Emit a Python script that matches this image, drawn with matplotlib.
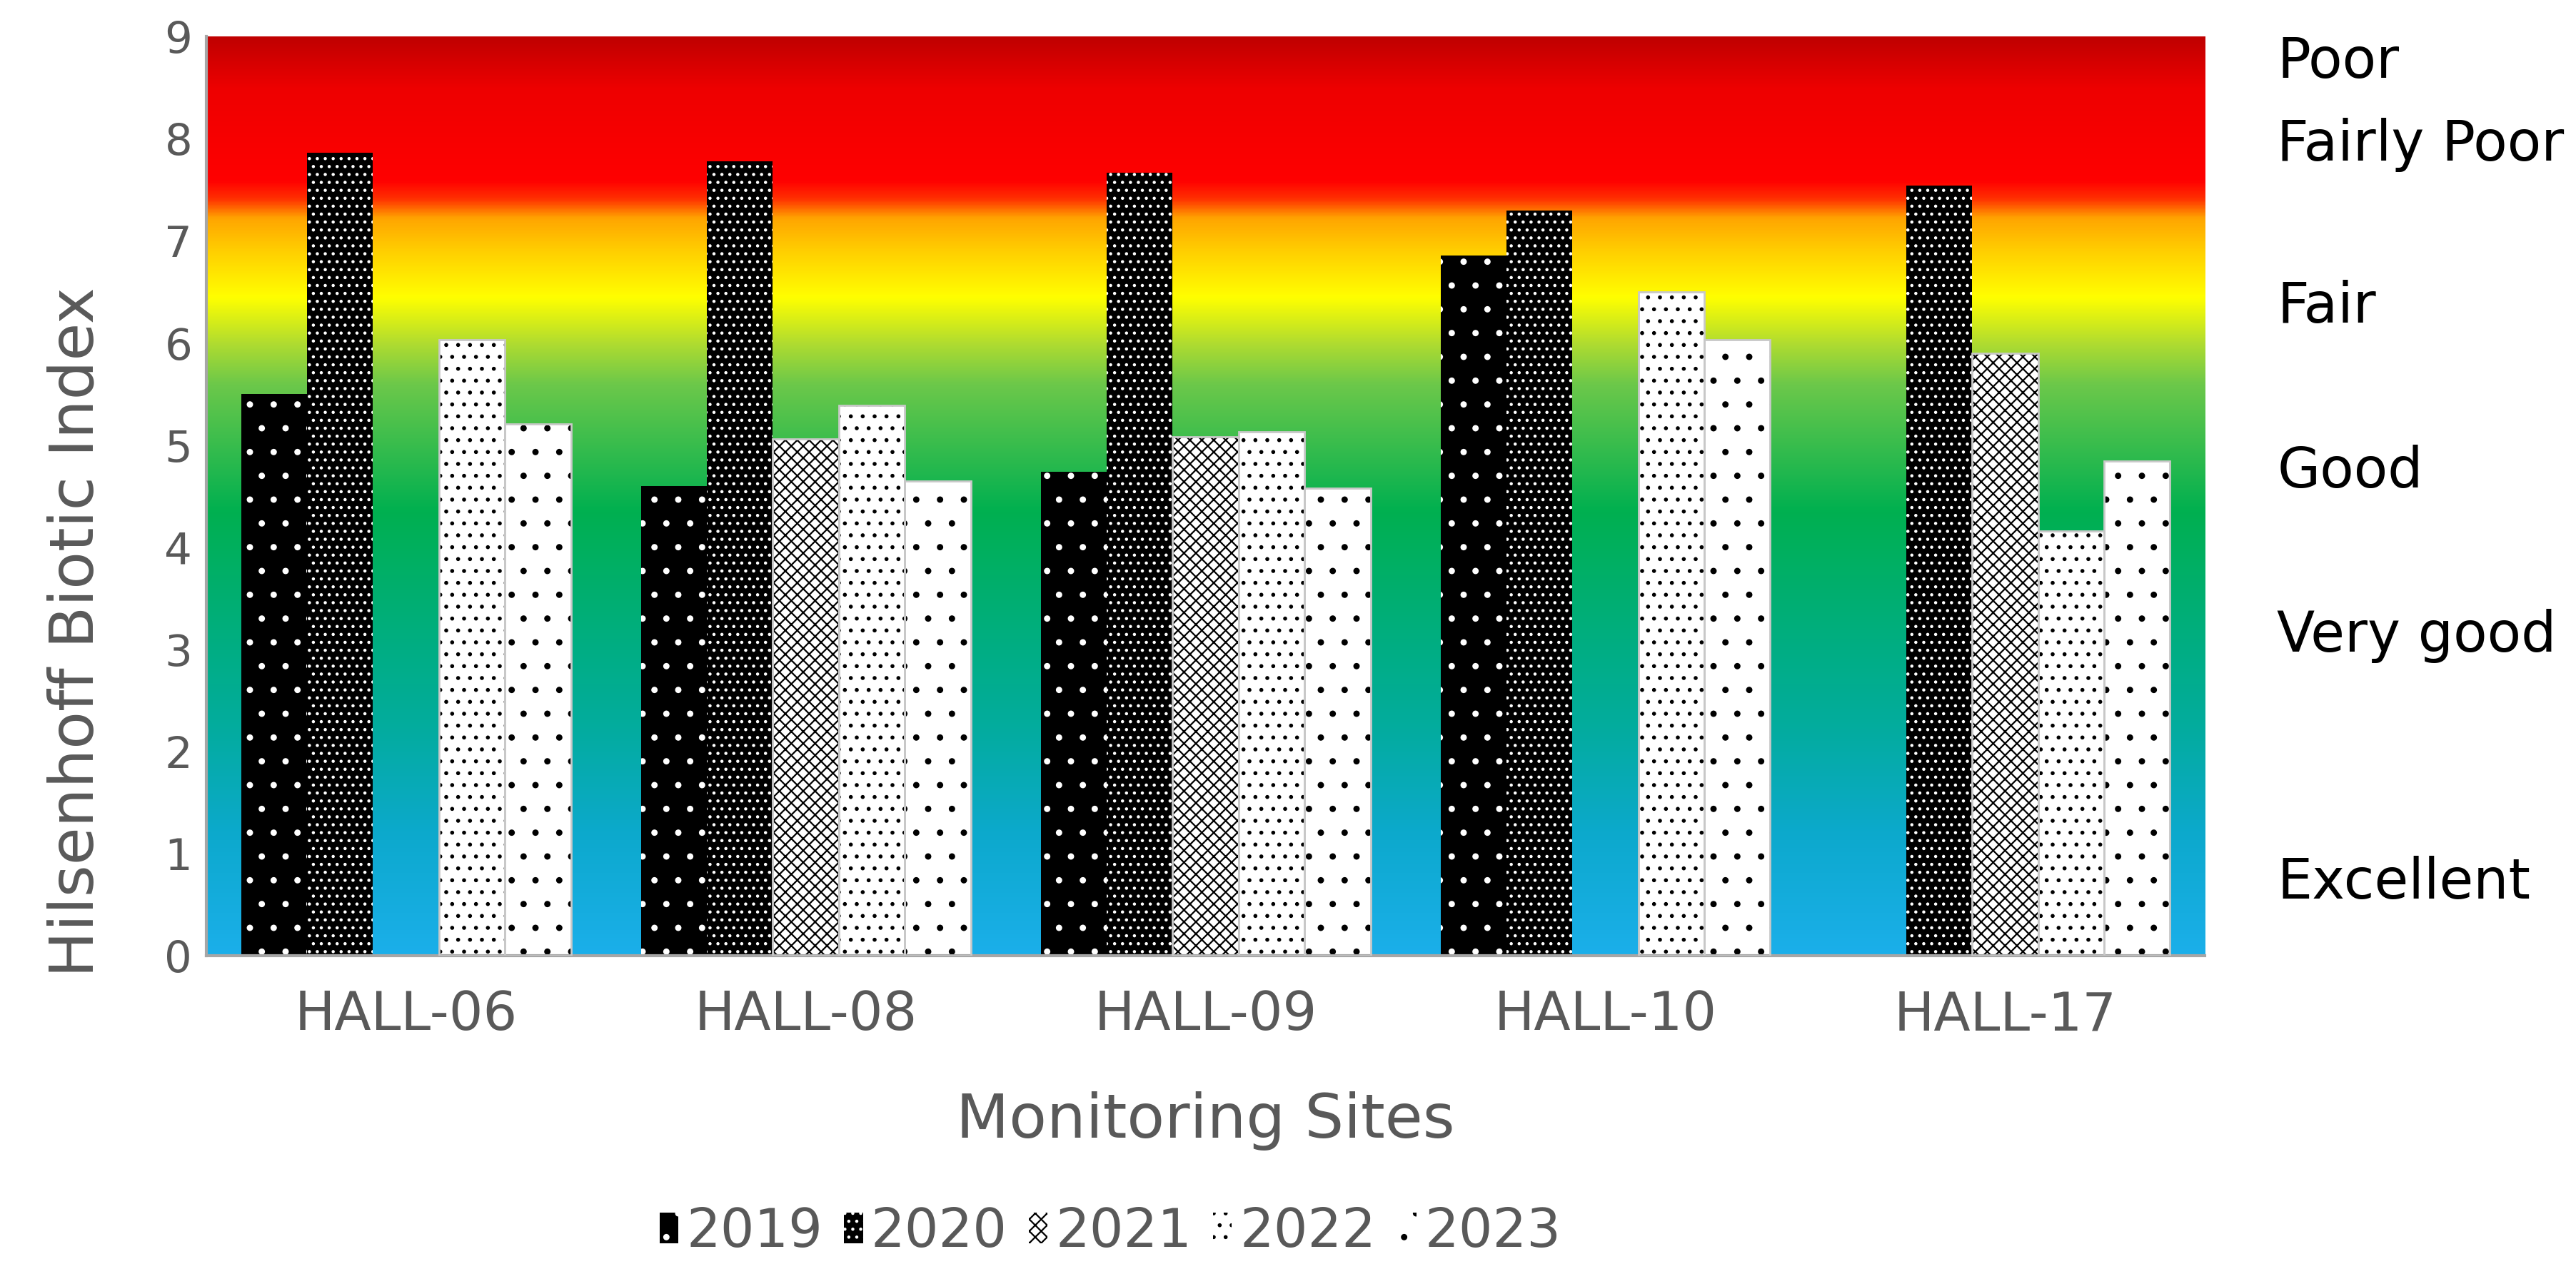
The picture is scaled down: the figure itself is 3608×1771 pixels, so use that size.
import matplotlib.pyplot as plt
import numpy as np
import matplotlib
from matplotlib.colors import LinearSegmentedColormap

matplotlib.rcParams['font.family'] = 'DejaVu Sans'
matplotlib.rcParams['hatch.linewidth'] = 0.8

sites = ['HALL-06', 'HALL-08', 'HALL-09', 'HALL-10', 'HALL-17']
years = ['2019', '2020', '2021', '2022', '2023']
hbi_2019 = [5.50, 4.60, 4.74, 6.86, np.nan]
hbi_2020 = [7.86, 7.78, 7.67, 7.30, 7.54]
hbi_2021 = [np.nan, 5.06, 5.08, np.nan, 5.90]
hbi_2022 = [6.03, 5.39, 5.13, 6.50, 4.16]
hbi_2023 = [5.21, 4.65, 4.58, 6.03, 4.84]

# water quality classes and where they sit on the index scale
classes = ['Poor', 'Fairly Poor', 'Fair', 'Good', 'Very good', 'Excellent']
class_pos = [8.75, 7.94, 6.35, 4.74, 3.13, 0.71]

# face, hatch colour, hatch
styles = [('black', 'white', '.'),
          ('black', 'white', '...'),
          ('white', 'black', 'xxxx'),
          ('white', 'black', '..'),
          ('white', 'black', '.')]

# background colour ramp along the index
ramp = [(0.0, '#1BAFEA'), (1.2, '#0CA9CC'), (2.2, '#03AC9F'), (3.1, '#00AE80'),
        (4.35, '#00B050'), (5.6, '#6CC84A'), (6.0, '#B0DC30'), (6.45, '#FFFF00'),
        (6.9, '#FFD000'), (7.23, '#FFA500'), (7.42, '#FF3000'), (7.6, '#FF0000'),
        (8.5, '#EE0000'), (9.0, '#C00000')]
cmap = LinearSegmentedColormap.from_list('hbi', [(v / 9.0, c) for v, c in ramp])

fig = plt.figure(figsize=(18.04, 8.855), dpi=200)
ax = fig.add_axes([0.080, 0.244, 0.776, 0.727])

grad = np.linspace(0, 1, 512).reshape(-1, 1)
ax.imshow(grad, extent=[-0.5, 4.5, 0, 9], origin='lower', aspect='auto',
          cmap=cmap, zorder=0, interpolation='bicubic')

x = np.arange(len(sites))
w = 0.165
handles = []
for i, vals in enumerate([hbi_2019, hbi_2020, hbi_2021, hbi_2022, hbi_2023]):
    face, hcol, hatch = styles[i]
    pos = x + (i - 2) * w
    b = ax.bar(pos, vals, w, color=face, edgecolor=hcol, hatch=hatch,
               linewidth=0, zorder=2, label=years[i])
    if face == 'white':
        ax.bar(pos, vals, w, fill=False, edgecolor='#C8C8C8', linewidth=1.0, zorder=3)
    handles.append(b)

ax.set_xlim(-0.5, 4.5)
ax.set_ylim(0, 9)
ax.set_yticks(range(10))
ax.set_xticks(x, sites)
ax.tick_params(axis='y', length=0, pad=7, labelsize=22, labelcolor='#595959')
ax.tick_params(axis='x', length=0, pad=17, labelsize=27, labelcolor='#595959')
for s in ['top', 'right']:
    ax.spines[s].set_visible(False)
for s in ['left', 'bottom']:
    ax.spines[s].set_color('#A6A6A6')
    ax.spines[s].set_linewidth(1.5)

ax.set_xlabel('Monitoring Sites', fontsize=31, color='#595959')
ax.xaxis.set_label_coords(0.5, -0.148)
ax.set_ylabel('Hilsenhoff Biotic Index', fontsize=31, color='#595959')
ax.yaxis.set_label_coords(-0.050, 0.352)

for name, yv in zip(classes, class_pos):
    ax.text(1.036, yv, name, transform=ax.get_yaxis_transform(), fontsize=28,
            color='black', va='center', ha='left')

fig.legend(handles=handles, labels=years, loc='center', bbox_to_anchor=(0.431, 0.025),
           ncol=5, frameon=False, fontsize=27, labelcolor='#595959',
           handlelength=0.35, handleheight=0.5, handletextpad=0.15, columnspacing=0.4)

fig.savefig('out.png', dpi=200)
